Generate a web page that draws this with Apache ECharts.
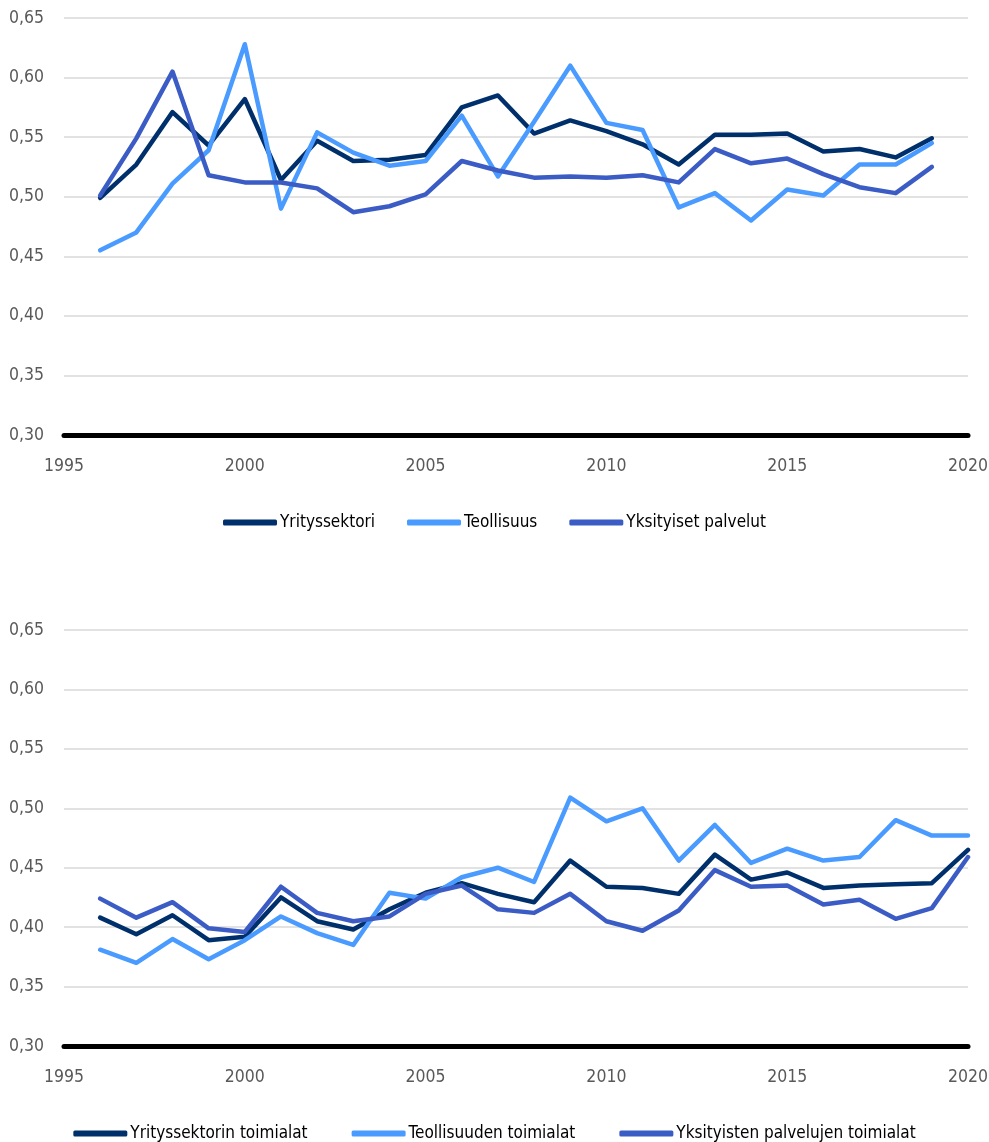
<!DOCTYPE html>
<html>
<head>
<meta charset="utf-8">
<script src="https://cdn.jsdelivr.net/npm/echarts@6/dist/echarts.min.js"></script>
<style>
  html, body { margin: 0; padding: 0; background: #ffffff; }
  #chart { width: 989px; height: 1142px; }
</style>
</head>
<body>
<div id="chart"></div>
<script>
// Years on the horizontal axis
const yearsTop = [1996,1997,1998,1999,2000,2001,2002,2003,2004,2005,2006,2007,2008,2009,2010,2011,2012,2013,2014,2015,2016,2017,2018,2019];
const yearsBottom = [1996,1997,1998,1999,2000,2001,2002,2003,2004,2005,2006,2007,2008,2009,2010,2011,2012,2013,2014,2015,2016,2017,2018,2019,2020];

// Upper panel
const namesTop = ['Yrityssektori', 'Teollisuus', 'Yksityiset palvelut'];
const yritysTop = [0.499,0.527,0.571,0.543,0.582,0.514,0.547,0.530,0.531,0.535,0.575,0.585,0.553,0.564,0.555,0.544,0.527,0.552,0.552,0.553,0.538,0.540,0.533,0.549];
const teollTop  = [0.455,0.470,0.511,0.539,0.628,0.490,0.554,0.537,0.526,0.530,0.568,0.517,0.563,0.610,0.562,0.556,0.491,0.503,0.480,0.506,0.501,0.527,0.527,0.545];
const palvTop   = [0.501,0.549,0.605,0.518,0.512,0.512,0.507,0.487,0.492,0.502,0.530,0.522,0.516,0.517,0.516,0.518,0.512,0.540,0.528,0.532,0.519,0.508,0.503,0.525];

// Lower panel
const namesBottom = ['Yrityssektorin toimialat', 'Teollisuuden toimialat', 'Yksityisten palvelujen toimialat'];
const yritysBottom = [0.408,0.394,0.410,0.389,0.392,0.425,0.405,0.398,0.415,0.429,0.437,0.428,0.421,0.456,0.434,0.433,0.428,0.461,0.440,0.446,0.433,0.435,0.436,0.437,0.465];
const teollBottom  = [0.381,0.370,0.390,0.373,0.389,0.409,0.395,0.385,0.429,0.424,0.442,0.450,0.438,0.509,0.489,0.500,0.456,0.486,0.454,0.466,0.456,0.459,0.490,0.477,0.477];
const palvBottom   = [0.424,0.408,0.421,0.399,0.396,0.434,0.412,0.405,0.409,0.428,0.435,0.415,0.412,0.428,0.405,0.397,0.414,0.448,0.434,0.435,0.419,0.423,0.407,0.416,0.459];

const colors = ['#00306b', '#4a9bff', '#3b5cc4'];
const font = "'Liberation Sans Narrow', 'DejaVu Sans Condensed', 'Arial Narrow', sans-serif";

function pairs(years, vals) { return years.map((y, i) => [y, vals[i]]); }

function xAxis(gridIndex) {
  return {
    type: 'value', gridIndex, min: 1995, max: 2020, interval: 5,
    axisLine: { show: true, lineStyle: { color: '#000000', width: 5, cap: 'round' } },
    axisTick: { show: false },
    splitLine: { show: false },
    axisLabel: { color: '#595959', fontFamily: font, fontSize: 17.5, margin: 22, formatter: v => String(v) }
  };
}
function yAxis(gridIndex) {
  return {
    type: 'value', gridIndex, min: 0.30, max: 0.65, interval: 0.05,
    axisLine: { show: false },
    axisTick: { show: false },
    splitLine: { show: true, lineStyle: { color: '#d9d9d9', width: 1.5 } },
    axisLabel: {
      color: '#595959', fontFamily: font, fontSize: 17.5, margin: 20,
      formatter: v => v.toFixed(2).replace('.', ',')
    }
  };
}
function line(name, axis, years, vals, color) {
  return {
    name, type: 'line', xAxisIndex: axis, yAxisIndex: axis,
    data: pairs(years, vals),
    showSymbol: false, symbol: 'none',
    lineStyle: { color, width: 4.5, join: 'round', cap: 'round' },
    itemStyle: { color },
    emphasis: { disabled: true },
    animation: false
  };
}
function legend(names, top, gap) {
  return {
    data: names, top, left: 'center',
    icon: 'roundRect', itemWidth: 54, itemHeight: 6, itemGap: gap,
    textStyle: { color: '#000000', fontFamily: font, fontSize: 17, padding: [0, 0, 0, -2] }
  };
}

const chart = echarts.init(document.getElementById('chart'), null, { renderer: 'canvas' });
chart.setOption({
  backgroundColor: '#ffffff',
  color: colors,
  animation: false,
  grid: [
    { left: 64, right: 21, top: 18, height: 417, containLabel: false, outerBoundsMode: 'none' },
    { left: 64, right: 21, top: 630, height: 416, containLabel: false, outerBoundsMode: 'none' }
  ],
  xAxis: [xAxis(0), xAxis(1)],
  yAxis: [yAxis(0), yAxis(1)],
  legend: [legend(namesTop, 509, 32), legend(namesBottom, 1120, 44)],
  series: [
    line(namesTop[0], 0, yearsTop, yritysTop, colors[0]),
    line(namesTop[1], 0, yearsTop, teollTop, colors[1]),
    line(namesTop[2], 0, yearsTop, palvTop, colors[2]),
    line(namesBottom[0], 1, yearsBottom, yritysBottom, colors[0]),
    line(namesBottom[1], 1, yearsBottom, teollBottom, colors[1]),
    line(namesBottom[2], 1, yearsBottom, palvBottom, colors[2])
  ]
});
</script>
</body>
</html>
